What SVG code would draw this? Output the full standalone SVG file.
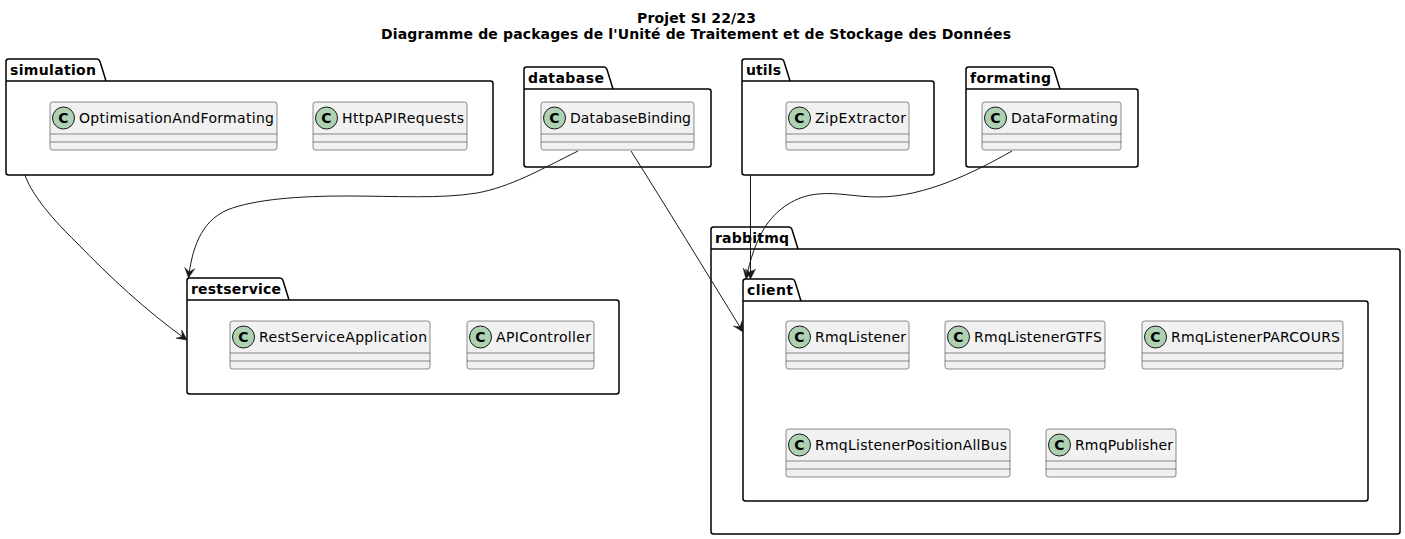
<svg xmlns="http://www.w3.org/2000/svg" width="1405" height="539" viewBox="0 0 1405 539">
<style>
text{font-family:"DejaVu Sans",sans-serif;fill:#000}
.t{font-size:14px;font-weight:700;text-anchor:middle}
.pk{font-size:14px;font-weight:700}
.cn{font-size:14px}
.p{fill:none;stroke:#000;stroke-width:1.5}
.b{fill:#F1F1F1;stroke:#181818;stroke-width:.5}
.d{fill:none;stroke:#181818;stroke-width:.5}
.c{fill:#ADD1B2;stroke:#181818;stroke-width:1}
.s{font-size:14px;font-weight:700;text-anchor:middle}
.e{fill:none;stroke:#181818;stroke-width:1}
</style>
<defs>
<marker id="a" markerUnits="userSpaceOnUse" markerWidth="12" markerHeight="12" refX="10" refY="5" orient="auto" overflow="visible"><path d="M0,0 L10,5 L0,10 L4,5 Z" fill="#181818" stroke="#181818" stroke-width=".5"/></marker>
</defs>
<text class="t" x="696.500" y="23" textLength="119">Projet SI 22/23</text>
<text class="t" x="696" y="39" textLength="630">Diagramme de packages de l'Unité de Traitement et de Stockage des Données</text>

<g id="simulation"><path class="p" d="M8.500,59 H97 Q99,59 100,61.500 L106,81 H490.500 Q493,81 493,83.500 V172.500 Q493,175 490.500,175 H8.500 Q6,175 6,172.500 V61.500 Q6,59 8.500,59 Z M6,81 H106"/><text class="pk" x="10" y="75" textLength="86">simulation</text></g>
<g id="OptimisationAndFormating"><rect class="b" x="50" y="102" width="227" height="48" rx="2.500"/><path class="d" d="M50,134 H277 M50,142 H277"/><circle class="c" cx="63.500" cy="118" r="11"/><text class="s" x="63.500" y="123">C</text><text class="cn" x="79" y="123" textLength="195">OptimisationAndFormating</text></g>
<g id="HttpAPIRequests"><rect class="b" x="313" y="102" width="154" height="48" rx="2.500"/><path class="d" d="M313,134 H467 M313,142 H467"/><circle class="c" cx="326.500" cy="118" r="11"/><text class="s" x="326.500" y="123">C</text><text class="cn" x="342" y="123" textLength="122">HttpAPIRequests</text></g>

<g id="database"><path class="p" d="M526.500,67 H604 Q606,67 607,69.500 L613,89 H708.500 Q711,89 711,91.500 V164.500 Q711,167 708.500,167 H526.500 Q524,167 524,164.500 V69.500 Q524,67 526.500,67 Z M524,89 H613"/><text class="pk" x="528" y="83" textLength="76">database</text></g>
<g id="DatabaseBinding"><rect class="b" x="541" y="102" width="153" height="48" rx="2.500"/><path class="d" d="M541,134 H694 M541,142 H694"/><circle class="c" cx="554.500" cy="118" r="11"/><text class="s" x="554.500" y="123">C</text><text class="cn" x="570" y="123" textLength="121">DatabaseBinding</text></g>

<g id="utils"><path class="p" d="M744.500,59 H781 Q783,59 784,61.500 L790,81 H931.500 Q934,81 934,83.500 V172.500 Q934,175 931.500,175 H744.500 Q742,175 742,172.500 V61.500 Q742,59 744.500,59 Z M742,81 H790"/><text class="pk" x="746" y="75" textLength="35">utils</text></g>
<g id="ZipExtractor"><rect class="b" x="786" y="102" width="123" height="48" rx="2.500"/><path class="d" d="M786,134 H909 M786,142 H909"/><circle class="c" cx="799.500" cy="118" r="11"/><text class="s" x="799.500" y="123">C</text><text class="cn" x="815" y="123" textLength="91">ZipExtractor</text></g>

<g id="formating"><path class="p" d="M968.500,67 H1051 Q1053,67 1054,69.500 L1060,89 H1135.500 Q1138,89 1138,91.500 V164.500 Q1138,167 1135.500,167 H968.500 Q966,167 966,164.500 V69.500 Q966,67 968.500,67 Z M966,89 H1060"/><text class="pk" x="970" y="83" textLength="81">formating</text></g>
<g id="DataFormating"><rect class="b" x="982" y="102" width="139" height="48" rx="2.500"/><path class="d" d="M982,134 H1121 M982,142 H1121"/><circle class="c" cx="995.500" cy="118" r="11"/><text class="s" x="995.500" y="123">C</text><text class="cn" x="1011" y="123" textLength="107">DataFormating</text></g>

<g id="restservice"><path class="p" d="M189.500,278 H280 Q282,278 283,280.500 L289,300 H616.500 Q619,300 619,302.500 V391.500 Q619,394 616.500,394 H189.500 Q187,394 187,391.500 V280.500 Q187,278 189.500,278 Z M187,300 H289"/><text class="pk" x="191" y="294" textLength="90">restservice</text></g>
<g id="RestServiceApplication"><rect class="b" x="230" y="321" width="200" height="48" rx="2.500"/><path class="d" d="M230,353 H430 M230,361 H430"/><circle class="c" cx="243.500" cy="337" r="11"/><text class="s" x="243.500" y="342">C</text><text class="cn" x="259" y="342" textLength="168">RestServiceApplication</text></g>
<g id="APIController"><rect class="b" x="467" y="321" width="127" height="48" rx="2.500"/><path class="d" d="M467,353 H594 M467,361 H594"/><circle class="c" cx="480.500" cy="337" r="11"/><text class="s" x="480.500" y="342">C</text><text class="cn" x="496" y="342" textLength="95">APIController</text></g>

<g id="rabbitmq"><path class="p" d="M713.500,227 H789 Q791,227 792,229.500 L798,249 H1397.500 Q1400,249 1400,251.500 V531.500 Q1400,534 1397.500,534 H713.500 Q711,534 711,531.500 V229.500 Q711,227 713.500,227 Z M711,249 H798"/><text class="pk" x="715" y="243" textLength="74">rabbitmq</text></g>
<g id="client"><path class="p" d="M745.500,279 H792 Q794,279 795,281.500 L801,301 H1365.500 Q1368,301 1368,303.500 V498.500 Q1368,501 1365.500,501 H745.500 Q743,501 743,498.500 V281.500 Q743,279 745.500,279 Z M743,301 H801"/><text class="pk" x="747" y="295" textLength="46">client</text></g>
<g id="RmqListener"><rect class="b" x="786" y="321" width="123" height="48" rx="2.500"/><path class="d" d="M786,353 H909 M786,361 H909"/><circle class="c" cx="799.500" cy="337" r="11"/><text class="s" x="799.500" y="342">C</text><text class="cn" x="815" y="342" textLength="91">RmqListener</text></g>
<g id="RmqListenerGTFS"><rect class="b" x="945" y="321" width="160" height="48" rx="2.500"/><path class="d" d="M945,353 H1105 M945,361 H1105"/><circle class="c" cx="958.500" cy="337" r="11"/><text class="s" x="958.500" y="342">C</text><text class="cn" x="974" y="342" textLength="128">RmqListenerGTFS</text></g>
<g id="RmqListenerPARCOURS"><rect class="b" x="1142" y="321" width="201" height="48" rx="2.500"/><path class="d" d="M1142,353 H1343 M1142,361 H1343"/><circle class="c" cx="1155.500" cy="337" r="11"/><text class="s" x="1155.500" y="342">C</text><text class="cn" x="1171" y="342" textLength="169">RmqListenerPARCOURS</text></g>
<g id="RmqListenerPositionAllBus"><rect class="b" x="786" y="429" width="224" height="48" rx="2.500"/><path class="d" d="M786,461 H1010 M786,469 H1010"/><circle class="c" cx="799.500" cy="445" r="11"/><text class="s" x="799.500" y="450">C</text><text class="cn" x="815" y="450" textLength="192">RmqListenerPositionAllBus</text></g>
<g id="RmqPublisher"><rect class="b" x="1046" y="429" width="130" height="48" rx="2.500"/><path class="d" d="M1046,461 H1176 M1046,469 H1176"/><circle class="c" cx="1059.500" cy="445" r="11"/><text class="s" x="1059.500" y="450">C</text><text class="cn" x="1075" y="450" textLength="98">RmqPublisher</text></g>

<g id="connectors">
<path class="e" marker-end="url(#a)" d="M25,175 C30,190 45,212 77,243 C110,277 145,310 187,340"/>
<path class="e" marker-end="url(#a)" d="M578,151 C540,170 510,187 477,193 C440,199 395,196 347,196 C300,196 255,199 227,210 C200,222 192,250 188.500,278"/>
<path class="e" marker-end="url(#a)" d="M631,151 C665,205 705,270 743,332"/>
<path class="e" marker-end="url(#a)" d="M750.500,175 V279"/>
<path class="e" marker-end="url(#a)" d="M1012,151 C975,172 925,197 878,197 C855,197 838,192 818,194 C795,196 778,209 767,224 C756,240 750,260 746,279"/>
</g>
</svg>
